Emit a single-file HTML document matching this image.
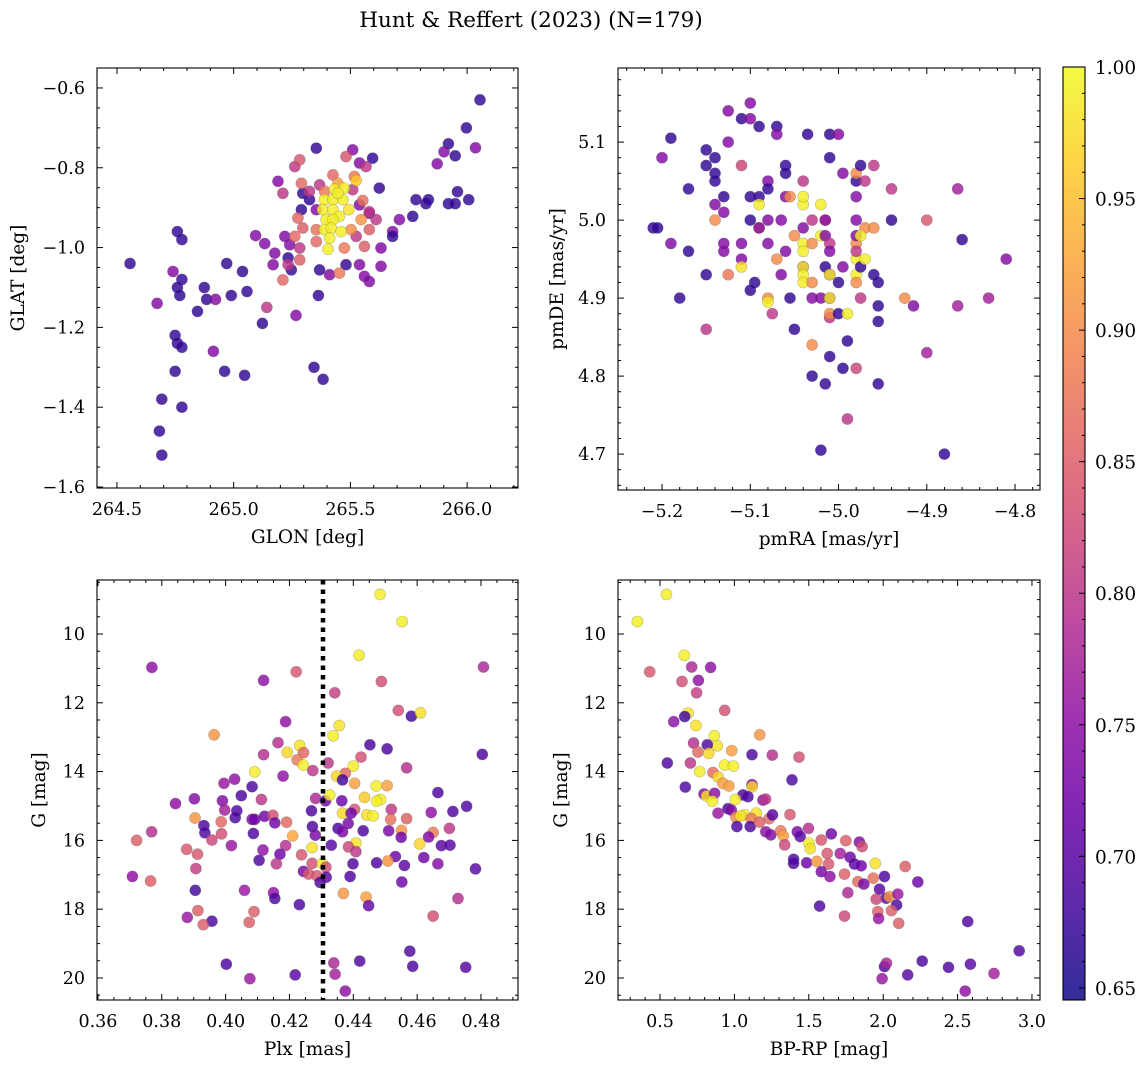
<!DOCTYPE html>
<html><head><meta charset="utf-8"><style>
html,body{margin:0;padding:0;background:#fff;}
svg{display:block;font-family:"DejaVu Serif","Liberation Serif",serif;}
</style></head><body>
<svg id="chart" width="1148" height="1067" viewBox="0 0 1148 1067" xmlns="http://www.w3.org/2000/svg">
<text x="531" y="27" font-size="21.5" text-anchor="middle">Hunt &amp; Reffert (2023) (N=179)</text>
</svg>
<script>
// ---- data: [x, y, membership probability] ----
const glonGlat = [
[264.556,-1.04,.67],[264.672,-1.14,.74],[264.692,-1.38,.67],[264.682,-1.46,.67],[264.692,-1.52,.67],[264.759,-0.96,.67],[264.778,-0.98,.67],[264.740,-1.06,.74],[264.778,-1.08,.67],[264.759,-1.10,.67],[264.769,-1.12,.67],[264.749,-1.22,.67],[264.759,-1.24,.67],[264.778,-1.25,.67],[264.749,-1.31,.67],[264.778,-1.40,.67],[264.874,-1.10,.67],[264.845,-1.16,.67],[264.884,-1.13,.67],[264.922,-1.13,.74],[264.913,-1.26,.74],[264.961,-1.31,.67],[264.970,-1.04,.67],[264.990,-1.12,.67],[265.038,-1.06,.67],[265.057,-1.11,.67],[265.047,-1.32,.67],[265.123,-1.19,.67],[265.094,-0.97,.74],[265.133,-0.99,.74],[265.142,-1.15,.80],[265.267,-1.17,.74],[265.344,-1.30,.67],[265.383,-1.33,.67],[265.363,-1.12,.67],[265.824,-0.89,.67],[265.872,-0.79,.74],[265.920,-0.74,.67],[265.901,-0.76,.74],[265.949,-0.77,.67],[265.997,-0.70,.67],[266.055,-0.63,.67],[266.036,-0.75,.74],[265.920,-0.89,.67],[265.959,-0.86,.67],[265.949,-0.89,.67],[266.007,-0.88,.67],[265.834,-0.88,.67],
[265.354,-0.751,.67],[265.510,-0.755,.74],[265.595,-0.776,.67],[265.539,-0.788,.74],[265.190,-0.834,.74],[265.624,-0.851,.67],[265.296,-0.864,.67],[265.325,-0.880,.67],[265.290,-0.905,.67],[265.354,-0.905,.74],[265.539,-0.893,.74],[265.581,-0.914,.74],[265.781,-0.880,.67],[265.767,-0.922,.67],[265.710,-0.930,.74],[265.681,-0.960,.74],[265.631,-1.001,.74],[265.219,-0.972,.74],[265.240,-0.993,.74],[265.176,-1.014,.74],[265.233,-1.026,.67],[265.169,-1.043,.74],[265.247,-1.056,.67],[265.481,-1.043,.67],[265.539,-1.043,.74],[265.368,-1.056,.67],[265.411,-1.068,.74],[265.560,-1.072,.74],[265.581,-1.085,.74],[265.631,-1.047,.74],[265.681,-0.972,.67],
[265.262,-0.797,.80],[265.567,-0.797,.80],[265.211,-0.864,.80],[265.510,-0.855,.80],[265.525,-0.972,.80],[265.368,-0.843,.80],[265.581,-0.910,.80],[265.610,-0.930,.80],[265.325,-0.859,.80],[265.233,-1.043,.80],[265.283,-1.001,.80],
[265.425,-0.818,.86],[265.389,-0.859,.88],[265.446,-0.839,.92],[265.553,-0.882,.87],[265.546,-0.930,.91],[265.275,-0.926,.86],[265.581,-0.955,.85],[265.354,-0.985,.86],[265.474,-1.001,.88],[265.560,-0.997,.85],[265.262,-0.972,.86],[265.296,-0.951,.85],[265.453,-1.064,.88],[265.211,-1.081,.86],[265.283,-1.031,.85],[265.481,-0.772,.84],[265.283,-0.780,.84],[265.290,-0.839,.86],[265.517,-0.822,.88],[265.503,-0.955,.90],[265.354,-0.955,.87],
[265.432,-0.854,.99],[265.474,-0.851,.99],[265.389,-0.880,.99],[265.425,-0.880,.99],[265.468,-0.880,.99],[265.381,-0.905,.99],[265.425,-0.905,.99],[265.493,-0.905,.98],[265.453,-0.922,.99],[265.396,-0.930,.99],[265.425,-0.930,.99],[265.389,-0.955,.99],[265.418,-0.951,.99],[265.460,-0.960,.99],[265.411,-0.976,.99],[265.404,-1.004,.99],[265.525,-0.832,.96],[265.446,-0.864,.99]
];
const pmraPmde = [
[-5.19,5.105,.67],[-5.20,5.08,.74],[-5.21,4.99,.67],[-5.205,4.99,.67],[-5.19,4.97,.74],[-5.18,4.90,.67],[-5.17,5.04,.67],[-5.17,4.96,.67],[-5.15,5.09,.67],[-5.15,5.07,.67],[-5.14,5.06,.67],[-5.14,5.05,.67],[-5.15,4.93,.67],[-5.14,5.02,.74],[-5.14,5.00,.90],[-5.15,4.86,.80],[-5.14,5.08,.67],[-5.125,5.14,.74],[-5.125,5.10,.74],[-5.13,5.03,.67],[-5.13,4.97,.74],[-5.13,4.96,.74],[-5.13,5.01,.74],[-5.11,5.07,.82],[-5.11,5.13,.67],[-5.10,5.03,.67],[-5.10,5.00,.67],[-5.11,4.97,.74],[-5.11,4.95,.74],[-5.11,4.94,.98],[-5.125,4.93,.88],[-5.10,5.15,.74],[-5.10,5.13,.74],[-5.09,5.12,.67],[-5.08,5.05,.74],[-5.08,5.04,.67],[-5.09,5.03,.67],[-5.09,5.02,.99],[-5.09,4.99,.90],[-5.08,5.00,.74],[-5.09,4.99,.74],[-5.08,4.97,.74],[-5.095,4.92,.67],[-5.10,4.91,.67],[-5.08,4.90,.90],[-5.08,4.895,.99],[-5.075,4.88,.80],[-5.07,4.95,.90],[-5.065,4.93,.74],[-5.06,4.96,.74],[-5.065,5.00,.74],[-5.06,5.03,.74],[-5.055,5.03,.90],[-5.07,5.12,.67],[-5.07,5.11,.74],[-5.06,5.07,.67],[-5.06,5.06,.67],[-5.055,4.90,.67],[-5.05,4.98,.90],[-5.05,4.86,.67],[-5.04,4.94,.74],[-5.04,4.99,.74],[-5.03,5.00,.80],[-5.035,5.11,.67],[-5.04,4.97,.99],[-5.04,4.96,.99],[-5.04,4.94,.99],[-5.04,4.93,.99],[-5.04,4.92,.99],[-5.04,5.02,.99],[-5.03,4.97,.90],[-5.04,5.05,.80],[-5.04,5.03,.99],[-5.03,4.84,.90],[-5.03,4.80,.67],[-5.03,4.92,.90],[-5.03,4.90,.74],[-5.02,4.90,.74],[-5.02,5.02,.99],[-5.02,4.98,.99],[-5.015,4.79,.67],[-5.015,5.00,.90],[-5.015,4.98,.74],[-5.015,4.94,.67],[-5.01,4.93,.74],[-5.01,4.875,.80],[-5.01,4.90,.74],[-5.01,5.11,.67],[-5.01,5.08,.67],[-5.015,5.00,.74],[-5.01,4.97,.80],[-5.01,4.96,.74],[-5.01,4.93,.99],[-5.01,4.90,.99],[-5.01,4.88,.90],[-5.02,4.705,.67],[-5.01,4.825,.67],[-5.00,4.88,.67],[-5.00,5.11,.74],[-4.995,4.94,.74],[-5.00,4.92,.67],[-4.995,5.06,.74],[-4.99,4.745,.80],[-4.99,4.845,.67],[-4.995,4.81,.67],[-4.99,4.88,.99],[-4.98,4.93,.99],[-4.98,4.95,.99],[-4.98,4.97,.90],[-4.98,4.92,.90],[-4.98,4.81,.82],[-4.98,5.00,.74],[-4.98,4.96,.80],[-4.98,4.98,.74],[-4.98,5.03,.74],[-4.98,5.05,.67],[-4.98,5.06,.90],[-4.975,4.90,.80],[-4.975,5.07,.67],[-4.97,4.99,.90],[-4.97,5.05,.80],[-4.975,4.94,.67],[-4.97,4.95,.99],[-4.975,4.98,.99],[-4.96,4.99,.90],[-4.96,5.07,.80],[-4.96,4.93,.67],[-4.955,4.92,.67],[-4.955,4.89,.67],[-4.955,4.87,.67],[-4.955,4.79,.67],[-4.94,5.00,.67],[-4.94,5.04,.80],[-4.925,4.90,.90],[-4.915,4.89,.74],[-4.90,5.00,.84],[-4.90,4.83,.77],[-4.88,4.70,.67],[-4.865,5.04,.77],[-4.86,4.975,.67],[-4.865,4.89,.77],[-4.83,4.90,.77],[-4.81,4.95,.74]
];
const plxG = [
[0.4484,8.85,.99],[0.4553,9.64,.99],[0.4418,10.62,.99],[0.3769,10.97,.75],[0.4808,10.96,.78],[0.4221,11.10,.84],[0.4119,11.35,.75],[0.4488,11.38,.83],[0.4342,11.71,.81],[0.4541,12.22,.83],[0.4582,12.39,.68],[0.4611,12.29,.98],[0.4188,12.55,.75],[0.4356,12.66,.98],[0.4337,12.96,.99],[0.3964,12.93,.91],[0.4164,13.16,.79],[0.4232,13.24,.98],[0.4452,13.22,.69],[0.4506,13.34,.69],[0.4193,13.44,.97],[0.4244,13.45,.86],[0.4119,13.51,.79],[0.4804,13.50,.69],[0.4224,13.66,.88],[0.4243,13.81,.99],[0.4321,13.75,.80],[0.4424,13.58,.83],[0.4400,13.84,.99],[0.4567,13.89,.79],[0.4273,13.97,.80],[0.4091,14.01,.99],[0.4180,14.13,.75],[0.4375,14.05,.86],[0.4348,14.13,.97],[0.4366,14.24,.68],[0.4028,14.22,.75],[0.3995,14.34,.76],[0.4404,14.34,.92],[0.4083,14.44,.69],[0.4472,14.42,.99],[0.4506,14.41,.92],[0.4665,14.61,.69],[0.4049,14.70,.69],[0.3902,14.79,.74],[0.3843,14.93,.75],[0.4112,14.81,.80],[0.4282,14.78,.78],[0.4313,14.85,.72],[0.4326,14.68,.99],[0.4435,14.75,.96],[0.4485,14.81,.99],[0.4473,14.86,.99],[0.4364,14.85,.72],[0.3990,14.85,.74],[0.3997,15.12,.77],[0.4035,15.14,.69],[0.4755,15.01,.69],[0.4712,15.16,.69],[0.4644,15.19,.75],[0.4519,15.10,.80],[0.4404,15.10,.84],[0.4366,15.21,.97],[0.4442,15.26,.98],[0.4462,15.29,.99],[0.4269,15.14,.69],[0.4393,15.21,.72],[0.3904,15.35,.91],[0.4030,15.34,.69],[0.3986,15.46,.86],[0.4083,15.39,.74],[0.4091,15.39,.72],[0.4122,15.30,.72],[0.4148,15.27,.83],[0.4154,15.49,.72],[0.4191,15.47,.86],[0.4517,15.39,.87],[0.4567,15.37,.85],[0.3932,15.57,.69],[0.3935,15.78,.69],[0.3768,15.75,.79],[0.3721,16.00,.85],[0.4087,15.80,.69],[0.3987,15.81,.83],[0.4272,15.60,.69],[0.4352,15.65,.69],[0.4366,15.75,.73],[0.4384,15.51,.73],[0.4431,15.72,.69],[0.4511,15.72,.73],[0.4551,15.71,.91],[0.4550,15.91,.72],[0.4650,15.77,.88],[0.4636,15.90,.74],[0.4701,15.65,.80],[0.4210,15.87,.93],[0.4281,15.85,.73],[0.3957,15.99,.82],[0.4018,16.15,.76],[0.3878,16.26,.84],[0.3912,16.40,.84],[0.4117,16.28,.75],[0.4188,16.15,.79],[0.4271,16.21,.98],[0.4331,16.14,.70],[0.4408,16.08,.98],[0.4385,16.19,.82],[0.4608,16.10,.97],[0.4676,16.15,.70],[0.4703,16.14,.70],[0.4170,16.40,.72],[0.4238,16.42,.84],[0.4408,16.33,.80],[0.4532,16.47,.72],[0.4621,16.50,.72],[0.4105,16.58,.69],[0.4159,16.68,.80],[0.4271,16.67,.83],[0.4303,16.67,.99],[0.4314,16.78,.83],[0.4399,16.68,.69],[0.4473,16.65,.69],[0.4508,16.60,.91],[0.4560,16.73,.70],[0.4665,16.68,.74],[0.3907,16.82,.81],[0.4244,16.90,.73],[0.4260,16.98,.84],[0.4286,17.03,.84],[0.4315,17.07,.70],[0.4296,17.22,.70],[0.4390,17.05,.69],[0.4783,16.83,.70],[0.3708,17.05,.75],[0.3765,17.18,.85],[0.4552,17.21,.72],[0.3905,17.45,.68],[0.4059,17.45,.76],[0.4150,17.52,.75],[0.4154,17.69,.69],[0.4369,17.54,.91],[0.4440,17.65,.92],[0.4448,17.90,.71],[0.4728,17.69,.79],[0.4231,17.87,.69],[0.3913,18.04,.85],[0.4089,18.07,.85],[0.3880,18.24,.76],[0.3957,18.35,.69],[0.3930,18.45,.85],[0.4074,18.38,.85],[0.4650,18.20,.83],[0.4577,19.22,.69],[0.4002,19.60,.69],[0.4339,19.56,.78],[0.4420,19.51,.69],[0.4586,19.66,.69],[0.4752,19.69,.70],[0.4343,19.89,.77],[0.4218,19.91,.70],[0.4076,20.02,.76],[0.4375,20.38,.75]
];
const bprpG = [
[0.543,8.85,.99],[0.348,9.64,.99],[0.663,10.62,.99],[0.431,11.10,.84],[0.713,10.96,.78],[0.840,10.97,.75],[0.758,11.35,.75],[0.648,11.38,.83],[0.746,11.71,.81],[0.935,12.22,.83],[0.688,12.30,.98],[0.666,12.40,.68],[0.592,12.55,.75],[0.742,12.66,.98],[1.170,12.93,.91],[0.865,12.96,.99],[0.885,13.25,.98],[0.726,13.17,.79],[0.818,13.22,.69],[0.982,13.39,.92],[1.118,13.51,.69],[1.255,13.52,.79],[1.434,13.58,.83],[0.755,13.43,.86],[0.827,13.47,.97],[0.549,13.75,.69],[0.704,13.75,.80],[0.935,13.81,.99],[0.993,13.84,.99],[0.767,14.00,.99],[0.856,14.03,.86],[0.890,14.15,.97],[0.923,14.34,.92],[0.963,14.42,.92],[1.118,14.38,.75],[1.120,14.44,.97],[1.387,14.24,.69],[0.670,14.45,.69],[0.796,14.65,.74],[0.813,14.71,.98],[0.867,14.63,.75],[0.852,14.86,.99],[1.058,14.68,.69],[1.091,14.73,.69],[1.006,14.81,.99],[1.192,14.83,.75],[1.210,14.80,.80],[0.957,15.08,.69],[0.979,15.12,.74],[0.890,15.21,.76],[1.010,15.33,.90],[1.069,15.26,.99],[1.042,15.29,.98],[1.147,15.21,.98],[1.113,15.36,.88],[1.017,15.60,.69],[1.106,15.60,.69],[1.233,15.37,.86],[1.256,15.26,.70],[1.374,15.25,.84],[1.169,15.47,.85],[1.211,15.75,.75],[1.245,15.84,.74],[1.311,15.72,.88],[1.329,15.87,.92],[1.338,16.13,.82],[1.423,15.75,.73],[1.498,15.65,.79],[1.442,15.89,.70],[1.501,16.08,.99],[1.510,16.24,.98],[1.584,15.99,.84],[1.651,15.81,.72],[1.749,16.01,.85],[1.840,16.05,.74],[1.858,16.18,.83],[1.398,16.55,.69],[1.398,16.67,.69],[1.485,16.65,.72],[1.554,16.61,.91],[1.624,16.38,.84],[1.633,16.69,.84],[1.711,16.38,.77],[1.778,16.49,.72],[1.807,16.69,.70],[1.852,16.74,.72],[1.947,16.67,.98],[1.584,16.91,.73],[1.642,17.05,.75],[1.740,16.98,.85],[1.830,17.20,.86],[1.870,17.27,.73],[1.933,17.10,.87],[2.009,17.05,.69],[2.148,16.76,.85],[2.233,17.21,.72],[1.762,17.52,.78],[1.975,17.42,.70],[2.020,17.68,.70],[1.953,17.71,.82],[2.042,17.64,.91],[2.098,17.56,.76],[2.090,17.88,.69],[1.573,17.91,.69],[1.964,18.07,.85],[2.056,18.04,.85],[1.740,18.20,.82],[1.969,18.27,.76],[2.104,18.41,.85],[2.568,18.36,.69],[2.914,19.21,.69],[2.009,19.67,.69],[2.022,19.57,.78],[2.262,19.51,.69],[2.439,19.69,.69],[2.586,19.60,.70],[2.745,19.87,.77],[2.165,19.91,.70],[1.993,20.02,.76],[2.551,20.38,.75]
];
const plxCut = [0.4305];
const tlXTicks = [264.5, 265.0, 265.5, 266.0];
const tlYTicks = [-0.6, -0.8, -1.0, -1.2, -1.4, -1.6];
const trXTicks = [-5.2, -5.1, -5.0, -4.9, -4.8];
const trYTicks = [4.7, 4.8, 4.9, 5.0, 5.1];
const blXTicks = [0.36, 0.38, 0.40, 0.42, 0.44, 0.46, 0.48];
const gTicks = [10, 12, 14, 16, 18, 20];
const brXTicks = [0.5, 1.0, 1.5, 2.0, 2.5, 3.0];
const cbTicks = [0.65, 0.70, 0.75, 0.80, 0.85, 0.90, 0.95, 1.00];

const NS = 'http://www.w3.org/2000/svg';
const svg = document.getElementById('chart');
const VMIN = 0.6454, VMAX = 1.0;
const PL = [[13,8,135],[65,4,157],[106,0,168],[143,13,164],[177,42,144],[204,71,120],[225,100,98],[242,132,75],[252,166,54],[252,206,37],[240,249,33]];
function plasma(t){t=Math.max(0,Math.min(1,t));const f=t*10,i=Math.min(9,Math.floor(f)),r=f-i;const a=PL[i],b=PL[i+1];
return 'rgb('+[0,1,2].map(k=>Math.round(a[k]+(b[k]-a[k])*r)).join(',')+')';}
function mk(tag, attrs, parent){const e=document.createElementNS(NS,tag);for(const k in attrs)e.setAttribute(k,attrs[k]);(parent||svg).appendChild(e);return e;}
function lin(d0,d1,r0,r1){return v=>r0+(v-d0)/(d1-d0)*(r1-r0);}
function fmt(v,dec){return (v<0?'\u2212':'')+Math.abs(v).toFixed(dec);}

function panel(name, box, xd, yd, xMaj, xMin, yMaj, yMin, xDec, yDec, data, xlabel, ylabel, ylabX){
  const g = mk('g',{});
  
  
  const X = lin(xd[0],xd[1],box[0],box[2]);
  const Y = lin(yd[0],yd[1],box[3],box[1]);
  const pts = mk('g',{},g);
  
  
  data.forEach(d=>{
    const c = mk('circle',{cx:X(d[0]).toFixed(1),cy:Y(d[1]).toFixed(1),r:5.6,fill:plasma((d[2]-VMIN)/(VMAX-VMIN)),'fill-opacity':0.82,stroke:'#555','stroke-opacity':0.35,'stroke-width':0.6},pts);
    
    
  });
  const ax = mk('g',{stroke:'#000','stroke-width':1},g);
  
  
  const lo=Math.min(xd[0],xd[1]),hi=Math.max(xd[0],xd[1]);
  for(let v=Math.ceil(lo/xMin-1e-6)*xMin; v<=hi+1e-9; v+=xMin){
    const isM = xMaj.some(m=>Math.abs(m-v)<xMin/4); const L=isM?6:3; const x=X(v);
    mk('line',{x1:x,x2:x,y1:box[3],y2:box[3]-L},ax); mk('line',{x1:x,x2:x,y1:box[1],y2:box[1]+L},ax);
  }
  const ylo=Math.min(yd[0],yd[1]),yhi=Math.max(yd[0],yd[1]);
  for(let v=Math.ceil(ylo/yMin-1e-6)*yMin; v<=yhi+1e-9; v+=yMin){
    const isM = yMaj.some(m=>Math.abs(m-v)<yMin/4); const L=isM?6:3; const y=Y(v);
    mk('line',{x1:box[0],x2:box[0]+L,y1:y,y2:y},ax); mk('line',{x1:box[2],x2:box[2]-L,y1:y,y2:y},ax);
  }
  mk('rect',{x:box[0],y:box[1],width:box[2]-box[0],height:box[3]-box[1],fill:'none',stroke:'#000','stroke-width':1.1},ax);
  xMaj.forEach(v=>{const t=mk('text',{x:X(v),y:box[3]+27,'font-size':17.5,'text-anchor':'middle'},g);t.textContent=fmt(v,xDec);
    
    });
  yMaj.forEach(v=>{const t=mk('text',{x:box[0]-12,y:Y(v)+6,'font-size':17.5,'text-anchor':'end'},g);t.textContent=fmt(v,yDec);
    
    });
  const xl=mk('text',{x:(box[0]+box[2])/2,y:box[3]+55,'font-size':18.5,'text-anchor':'middle'},g);xl.textContent=xlabel;
  
  
  const cy=(box[1]+box[3])/2;
  const yl=mk('text',{x:ylabX,y:cy,'font-size':18.5,'text-anchor':'middle',transform:'rotate(-90 '+ylabX+' '+cy+')'},g);yl.textContent=ylabel;
  
  
  return {X,Y,g};
}

panel('glon-glat',[97,68,518,488],[264.4145,266.218],[-1.6025,-0.550],tlXTicks,0.1,tlYTicks,0.05,1,1,glonGlat,'GLON [deg]','GLAT [deg]',24);
panel('pm',[618,68,1040,490],[-5.2499,-4.7717],[4.654,5.195],trXTicks,0.02,trYTicks,0.02,1,1,pmraPmde,'pmRA [mas/yr]','pmDE [mas/yr]',563);
const bl = panel('plx-g',[97,580,518,1000],[0.3597,0.4916],[20.64,8.43],blXTicks,0.005,gTicks,0.5,2,0,plxG,'Plx [mas]','G [mag]',45);
panel('cmd',[618,580,1040,1000],[0.2177,3.054],[20.64,8.43],brXTicks,0.1,gTicks,0.5,1,0,bprpG,'BP-RP [mag]','G [mag]',567);

plxCut.forEach(v=>{
  const l = mk('line',{x1:bl.X(v),x2:bl.X(v),y1:580,y2:1000,stroke:'#000','stroke-width':4.5,'stroke-dasharray':'4.5 5'});
  
  
});

// colorbar
const defs = mk('defs',{});
const grad = mk('linearGradient',{id:'pg',x1:0,y1:1,x2:0,y2:0},defs);
for(let i=0;i<=20;i++){mk('stop',{offset:(i/20),'stop-color':plasma(i/20),'stop-opacity':0.85},grad);}
const cb = mk('g',{});


const cbTop=67, cbBot=1000, cbL=1063, cbR=1085;
mk('rect',{x:cbL,y:cbTop,width:cbR-cbL,height:cbBot-cbTop,fill:'url(#pg)',stroke:'#000','stroke-width':1.1},cb);
const CY = lin(VMIN,VMAX,cbBot,cbTop);
for(let k=65;k<=100;k++){const v=k/100;const y=CY(v);const isM=(k%5===0);
  mk('line',{x1:cbR,x2:cbR-(isM?6:3),y1:y,y2:y,stroke:'#000','stroke-width':1},cb);}
cbTicks.forEach(v=>{const t=mk('text',{x:1095,y:CY(v)+7,'font-size':18.5},cb);t.textContent=v.toFixed(2);
  
  });
</script>
</body></html>
